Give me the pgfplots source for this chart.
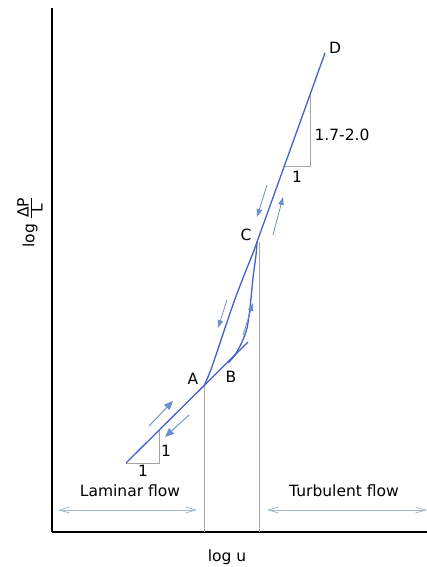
\documentclass[border=0pt]{standalone}
\usepackage{pgfplots}
\pgfplotsset{compat=1.18}
\usepackage{fontspec}
\setmainfont{DejaVu Sans}
\usetikzlibrary{arrows.meta}
\definecolor{curve}{RGB}{68,96,204}
\definecolor{arr}{RGB}{105,145,205}
\definecolor{lgray}{RGB}{165,165,165}
\definecolor{regarr}{RGB}{160,185,210}
\begin{document}
\begin{tikzpicture}[font=\fontsize{15.5}{18}\selectfont]
\begin{axis}[scale only axis, width=375pt, height=524pt,
  xmin=52, xmax=427, ymin=35, ymax=559,
  axis lines=left, axis line style={-, line width=1.5pt, black},
  xtick=\empty, ytick=\empty, clip=false]
% gray guide lines
\addplot[lgray, line width=0.8pt] coordinates {(204,181) (204,35)};
\addplot[lgray, line width=0.8pt] coordinates {(259,325) (259,35)};
% slope triangles
\addplot[lgray, line width=0.8pt] coordinates {(126,104) (159,104) (159,136.7)};
\addplot[lgray, line width=0.8pt] coordinates {(284.3,401) (310,401) (310,472)};
% laminar line
\addplot[curve, line width=1.3pt] coordinates {(126,104) (248,225)};
% A-C curve
\addplot[curve, line width=1.3pt, smooth] coordinates {(204,181) (210,195) (217,215) (225,239) (235,268) (245,294) (253,314) (257,325)};
% B-C curve
\addplot[curve, line width=1.3pt, smooth] coordinates {(228,204) (235,212) (242,225) (247,239) (250,259) (253,289) (256,312) (257,325)};
% C-D line
\addplot[curve, line width=1.3pt] coordinates {(257,325) (325,514)};
% flow arrows
\addplot[arr, line width=0.9pt, -{Triangle[length=9pt, width=7.5pt]}] coordinates {(149,141) (173,166)};
\addplot[arr, line width=0.9pt, -{Triangle[length=9pt, width=7.5pt]}] coordinates {(189,152) (165,130)};
\addplot[arr, line width=0.8pt, -{Triangle[length=8pt, width=5.5pt]}] coordinates {(227,267) (218,239)};
\addplot[arr, line width=0.8pt, -{Triangle[length=8pt, width=5.5pt]}] coordinates {(243,232) (253,264)};
\addplot[arr, line width=0.8pt, -{Triangle[length=8pt, width=5.5pt]}] coordinates {(267,382) (257,350)};
\addplot[arr, line width=0.8pt, -{Triangle[length=8pt, width=5.5pt]}] coordinates {(273,332) (283,370)};
% region arrows
\addplot[regarr, line width=0.8pt, {Straight Barb[length=10pt, width=6pt]}-{Straight Barb[length=10pt, width=6pt]}] coordinates {(58,57) (197,57)};
\addplot[regarr, line width=0.8pt, {Straight Barb[length=10pt, width=6pt]}-{Straight Barb[length=10pt, width=6pt]}] coordinates {(267,57) (427,57)};
% labels
\node at (axis cs:335,519) {D};
\node at (axis cs:246,332) {C};
\node at (axis cs:193,188) {A};
\node at (axis cs:231,190) {B};
\node at (axis cs:342,432) {1.7-2.0};
\node at (axis cs:297,390) {1};
\node at (axis cs:166,116) {1};
\node at (axis cs:143,96) {1};
\node at (axis cs:130,76) {Laminar flow};
\node at (axis cs:344,76) {Turbulent flow};
\node at (axis cs:227,10) {log u};
\node[rotate=90] at (axis cs:30,345) {log $\frac{\mbox{ΔP}}{\mbox{L}}$};
\end{axis}
\pgfresetboundingbox
\path (-52pt,-35pt) rectangle (375pt,532pt);
\end{tikzpicture}
\end{document}
